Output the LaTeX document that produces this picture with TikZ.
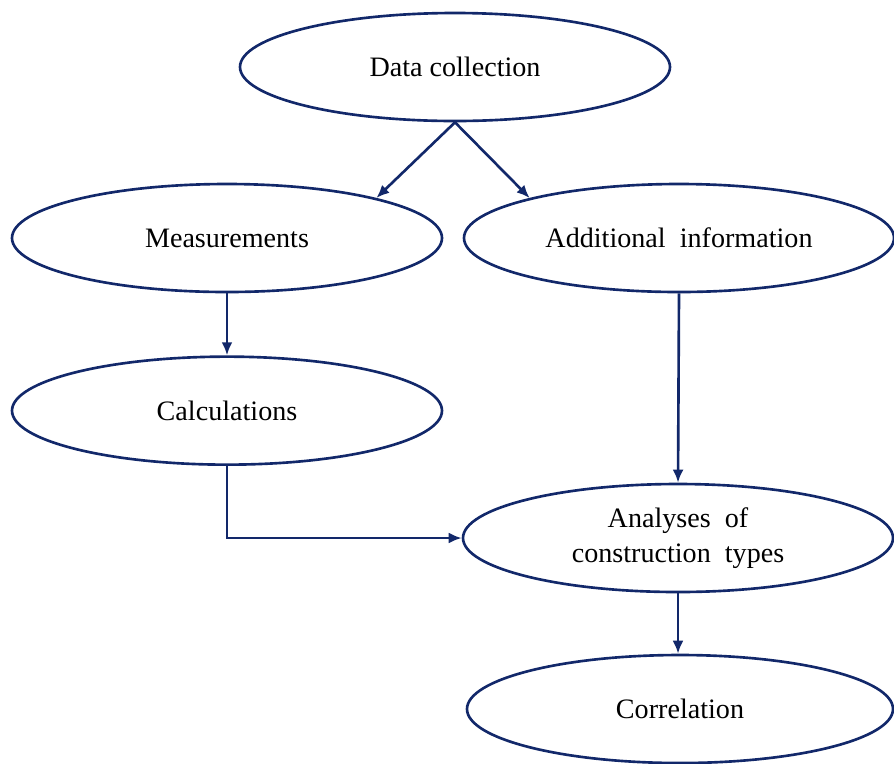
\documentclass[tikz,border=0pt]{standalone}
\usepackage{fontspec}
\setmainfont{Liberation Serif}
\usetikzlibrary{arrows.meta,positioning,shapes.geometric}
\definecolor{navy}{RGB}{18,40,106}

\begin{document}
\begin{tikzpicture}[>={Latex[length=2.6mm,width=2.2mm]},font=\fontsize{16}{19.5}\selectfont]
  \tikzstyle{oval}=[ellipse,draw=navy,line width=1.5pt,align=center,minimum width=8.6cm,minimum height=2.16cm,inner sep=0pt]
  \tikzstyle{link}=[draw=navy,line width=1.5pt,->]
  \useasboundingbox (0,0) rectangle (17.88,-15.26);
  \node[oval] (data) at (9.10,-1.34) {Data collection};
  \node[oval] (meas) at (4.54,-4.76) {Measurements};
  \node[oval] (info) at (13.58,-4.76) {Additional\ \ information};
  \node[oval,below=1.24cm of meas] (calc) {Calculations};
  \node[oval] (anal) at (13.56,-10.76) {Analyses\ \ of\\construction\ \ types};
  \node[oval,minimum width=8.52cm] (corr) at (13.60,-14.18) {Correlation};
  \draw[link] (data.south) -- (meas.15);
  \draw[link] (data.south) -- (info.165);
  \draw[link] (meas.south) -- (calc.north);
  \draw[link] (info.south) -- (anal.north);
  \draw[link] (calc.south) |- (anal.west);
  \draw[link] (anal.south) -- (anal.south |- corr.north);
\end{tikzpicture}
\end{document}
